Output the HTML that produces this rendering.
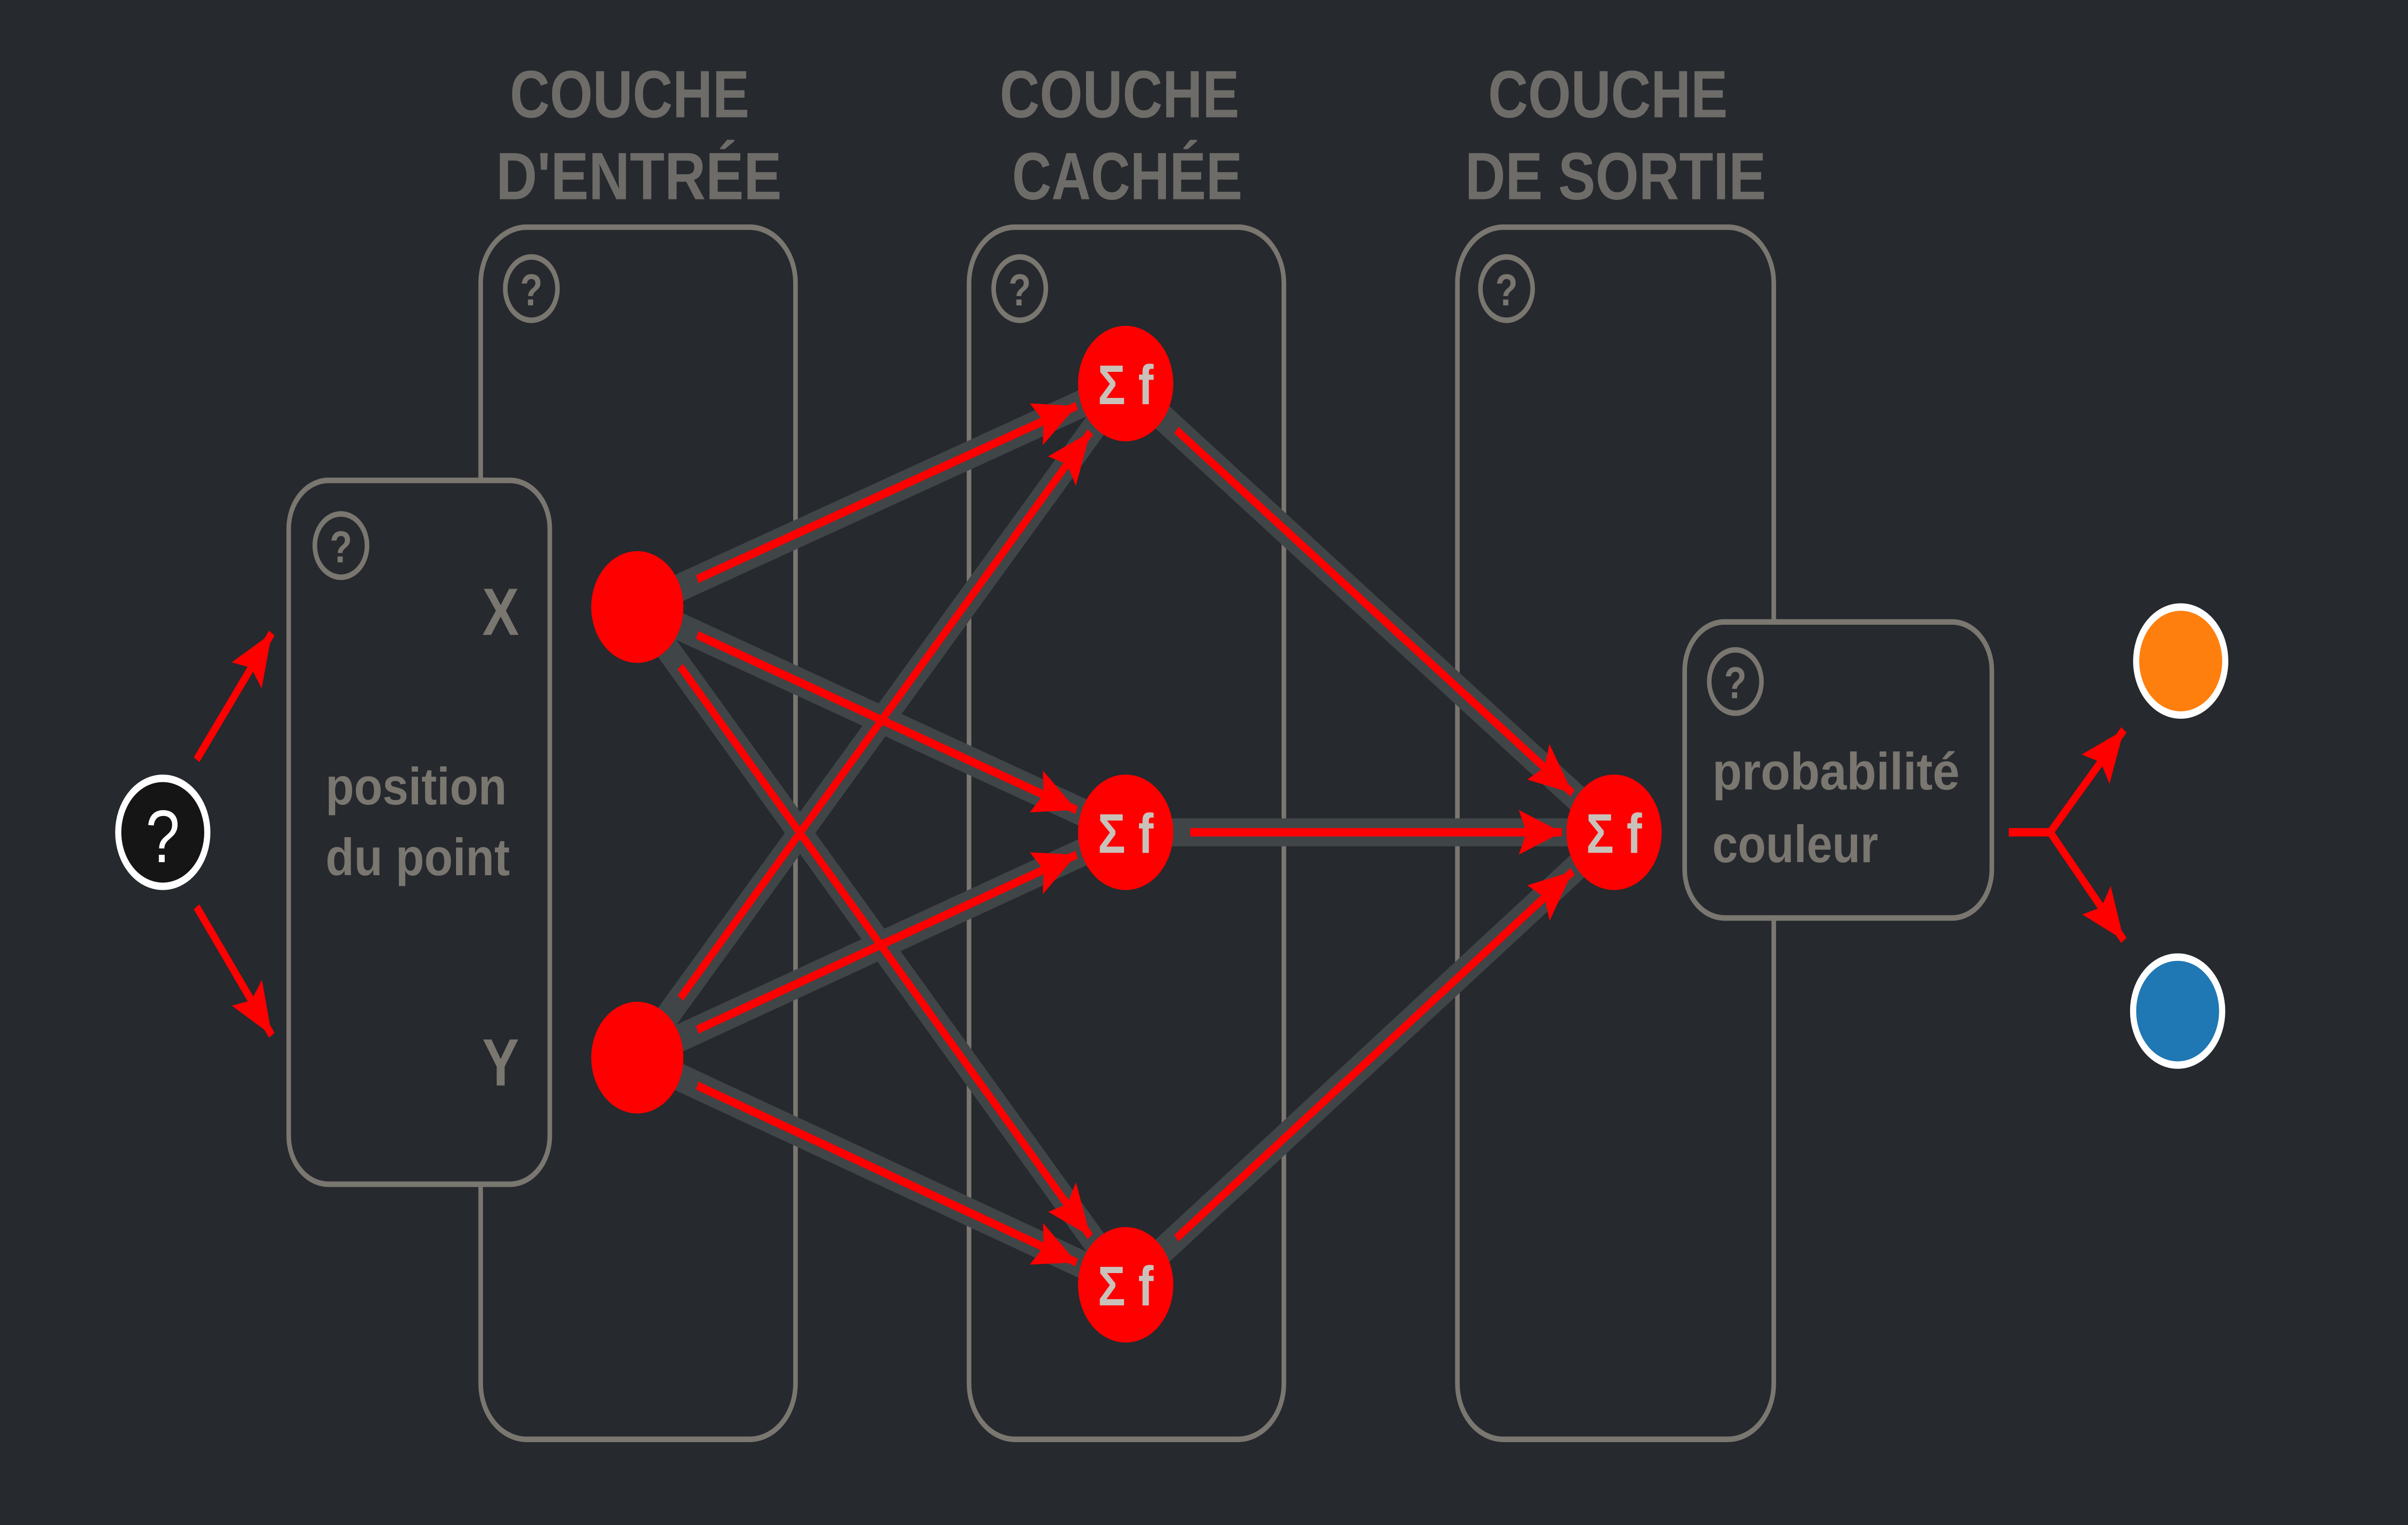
<!DOCTYPE html>
<html><head><meta charset="utf-8">
<style>
html,body{margin:0;padding:0;background:#26292d;overflow:hidden;width:100vw;height:100vh;}
svg{display:block;position:absolute;left:0;top:0;width:100vw;height:100vh;}
text{font-family:"Liberation Sans","DejaVu Sans",sans-serif;font-weight:bold;}
</style></head>
<body>
<svg viewBox="0 0 1568 819" preserveAspectRatio="none" xmlns="http://www.w3.org/2000/svg">
<defs>
<marker id="ah" markerUnits="userSpaceOnUse" markerWidth="30" markerHeight="26" refX="28" refY="12" orient="auto">
<path d="M0,0 L28,12 L0,24 L5,12 Z" fill="#ff0000"/>
</marker>
</defs>
<rect width="1568" height="819" fill="#26292d"/>

<g fill="#6e6c68" font-size="36" text-anchor="middle">
<text x="410" y="63" textLength="156" lengthAdjust="spacingAndGlyphs">COUCHE</text>
<text x="416" y="107" textLength="186" lengthAdjust="spacingAndGlyphs">D'ENTRÉE</text>
<text x="729" y="63" textLength="156" lengthAdjust="spacingAndGlyphs">COUCHE</text>
<text x="734" y="107" textLength="150" lengthAdjust="spacingAndGlyphs">CACHÉE</text>
<text x="1047" y="63" textLength="156" lengthAdjust="spacingAndGlyphs">COUCHE</text>
<text x="1052" y="107" textLength="196" lengthAdjust="spacingAndGlyphs">DE SORTIE</text>
</g>

<g fill="none" stroke="#7a7670" stroke-width="3">
<rect x="313" y="122" width="205" height="651" rx="30"/>
<rect x="631" y="122" width="205" height="651" rx="30"/>
<rect x="949" y="122" width="206" height="651" rx="30"/>
</g>
<g fill="#26292d" stroke="#7a7670" stroke-width="3">
<rect x="188" y="258" width="170" height="378" rx="26"/>
<rect x="1097" y="334" width="200" height="159" rx="26"/>
</g>

<g fill="none" stroke="#7a7670" stroke-width="3">
<circle cx="346" cy="155" r="17"/>
<circle cx="664" cy="155" r="17"/>
<circle cx="981" cy="155" r="17"/>
<circle cx="222" cy="293" r="17"/>
<circle cx="1130" cy="366" r="17"/>
</g>
<g fill="#7a7670" font-size="24" text-anchor="middle">
<text x="346" y="164">?</text>
<text x="664" y="164">?</text>
<text x="981" y="164">?</text>
<text x="222" y="302">?</text>
<text x="1130" y="375">?</text>
</g>

<g stroke="#404548" stroke-width="15" stroke-linecap="round">
<line x1="415" y1="326" x2="733" y2="206"/>
<line x1="415" y1="326" x2="733" y2="447"/>
<line x1="415" y1="326" x2="733" y2="690"/>
<line x1="415" y1="568" x2="733" y2="206"/>
<line x1="415" y1="568" x2="733" y2="447"/>
<line x1="415" y1="568" x2="733" y2="690"/>
<line x1="733" y1="206" x2="1051" y2="447"/>
<line x1="733" y1="447" x2="1051" y2="447"/>
<line x1="733" y1="690" x2="1051" y2="447"/>
</g>

<g stroke="#ff0000" stroke-width="4.5" fill="none" marker-end="url(#ah)">
<line x1="454" y1="311" x2="701" y2="218"/>
<line x1="454" y1="341" x2="701" y2="435"/>
<line x1="443" y1="358" x2="710" y2="664"/>
<line x1="443" y1="536" x2="710" y2="232"/>
<line x1="454" y1="553" x2="701" y2="459"/>
<line x1="454" y1="583" x2="701" y2="678"/>
<line x1="766" y1="231" x2="1024" y2="426"/>
<line x1="775" y1="447" x2="1017" y2="447"/>
<line x1="766" y1="665" x2="1024" y2="468"/>
<line x1="128" y1="408" x2="177" y2="340"/>
<line x1="128" y1="487" x2="177" y2="556"/>
<line x1="1335" y1="447" x2="1383" y2="392"/>
<line x1="1335" y1="447" x2="1383" y2="505"/>
</g>
<line x1="1308" y1="447" x2="1337" y2="447" stroke="#ff0000" stroke-width="4.5"/>

<g fill="#ff0000">
<circle cx="415" cy="326" r="30"/>
<circle cx="415" cy="568" r="30"/>
<circle cx="733" cy="206" r="31"/>
<circle cx="733" cy="447" r="31"/>
<circle cx="733" cy="690" r="31"/>
<circle cx="1051" cy="447" r="31"/>
</g>
<g fill="#c8c2bb" font-size="30" text-anchor="middle">
<text x="733" y="217">Σ f</text>
<text x="733" y="458">Σ f</text>
<text x="733" y="701">Σ f</text>
<text x="1051" y="458">Σ f</text>
</g>

<g fill="#7a7670">
<text x="326" y="341" font-size="36" text-anchor="middle">X</text>
<text x="326" y="583" font-size="36" text-anchor="middle">Y</text>
<text x="212" y="432" font-size="28" textLength="118" lengthAdjust="spacingAndGlyphs">position</text>
<text x="212" y="470" font-size="28" textLength="120" lengthAdjust="spacingAndGlyphs">du point</text>
<text x="1115" y="424" font-size="28" textLength="161" lengthAdjust="spacingAndGlyphs">probabilité</text>
<text x="1115" y="463" font-size="28" textLength="108" lengthAdjust="spacingAndGlyphs">couleur</text>
</g>

<circle cx="106" cy="447" r="29" fill="#151515" stroke="#ffffff" stroke-width="4"/>
<text x="106" y="463" font-size="40" fill="#ffffff" text-anchor="middle" style="font-weight:normal">?</text>

<circle cx="1420" cy="355" r="29" fill="#ff7f0e" stroke="#ffffff" stroke-width="4"/>
<circle cx="1418" cy="543" r="29" fill="#1f77b4" stroke="#ffffff" stroke-width="4"/>
</svg>
</body></html>
